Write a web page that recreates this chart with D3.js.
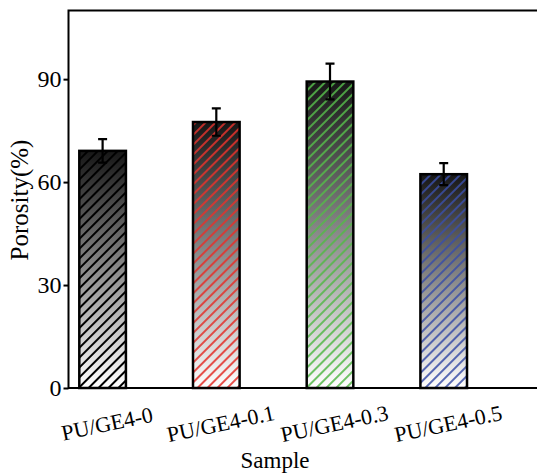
<!DOCTYPE html>
<html>
<head>
<meta charset="utf-8">
<script src="https://cdn.jsdelivr.net/npm/d3@7"></script>
<style>
  body { margin: 0; background: #fff; }
  svg text { font-family: "Liberation Serif", "Times New Roman", serif; fill: #000; }
</style>
</head>
<body>
<div id="chart"></div>
<script>
// Porosity of the PU/GE4 samples

var samples = ["PU/GE4-0", "PU/GE4-0.1", "PU/GE4-0.3", "PU/GE4-0.5"],
    porosity = [69.1, 77.5, 89.3, 62.3],
    porosityErr = [3.4, 4.0, 5.2, 3.2],
    hatchColors = ["#000000", "#e3322c", "#55b84a", "#3a4ea6"],
    yTicks = [0, 30, 60, 90];

var width = 537,
    height = 473,
    plotLeft = 68.5,
    plotTop = 10.5,
    plotBottom = 388,
    plotRight = 560;

var svg = d3.select("#chart").append("svg")
    .attr("width", width)
    .attr("height", height);

var x = d3.scaleLinear()
    .domain([0.7, 0.7 + (plotRight - plotLeft) / 113.7])
    .range([plotLeft, plotRight]);

var y = d3.scaleLinear()
    .domain([0, 110])
    .range([plotBottom, plotTop]);

var barW = x(1.41) - x(1);

// gradient + hatching
var defs = svg.append("defs");

var grad = defs.append("linearGradient")
    .attr("id", "shade")
    .attr("x1", 0).attr("y1", 0)
    .attr("x2", 0).attr("y2", 1);
grad.append("stop").attr("offset", "0%").attr("stop-color", "#161616");
grad.append("stop").attr("offset", "100%").attr("stop-color", "#ffffff");

hatchColors.forEach(function(c, i) {
  defs.append("pattern")
      .attr("id", "hatch" + i)
      .attr("patternUnits", "userSpaceOnUse")
      .attr("width", 7)
      .attr("height", 7)
      .attr("patternTransform", "rotate(45)")
    .append("line")
      .attr("x1", 1).attr("y1", -1)
      .attr("x2", 1).attr("y2", 8)
      .attr("stroke", c)
      .attr("stroke-width", i == 0 ? 2 : 1.7);
});

// bars
var bars = svg.selectAll(".bar")
    .data(samples)
    .enter().append("g")
    .attr("class", "bar");

bars.append("rect")
    .attr("x", function(d, i) { return x(i + 1) - barW / 2; })
    .attr("y", function(d, i) { return y(porosity[i]); })
    .attr("width", barW)
    .attr("height", function(d, i) { return y(0) - y(porosity[i]); })
    .attr("fill", "url(#shade)");

bars.append("rect")
    .attr("x", function(d, i) { return x(i + 1) - barW / 2; })
    .attr("y", function(d, i) { return y(porosity[i]); })
    .attr("width", barW)
    .attr("height", function(d, i) { return y(0) - y(porosity[i]); })
    .attr("fill", function(d, i) { return "url(#hatch" + i + ")"; })
    .attr("stroke", "#000")
    .attr("stroke-width", 2.5);

// error bars
var capW = 4.5;
bars.append("path")
    .attr("fill", "none")
    .attr("stroke", "#000")
    .attr("stroke-width", 2.2)
    .attr("d", function(d, i) {
      var cx = x(i + 1),
          hi = y(porosity[i] + porosityErr[i]),
          lo = y(porosity[i] - porosityErr[i]);
      return "M" + cx + "," + hi + "V" + lo +
             "M" + (cx - capW) + "," + hi + "H" + (cx + capW) +
             "M" + (cx - capW) + "," + lo + "H" + (cx + capW);
    });

// axes
var yAxis = svg.append("g")
    .attr("transform", "translate(" + plotLeft + ",0)")
    .call(d3.axisLeft(y).tickValues(yTicks).tickSize(5).tickPadding(2));
yAxis.select(".domain").remove();
yAxis.selectAll("line").attr("stroke-width", 2);
yAxis.selectAll("text")
    .style("font-family", "Liberation Serif")
    .style("font-size", "24px");

svg.append("path")
    .attr("fill", "none")
    .attr("stroke", "#000")
    .attr("stroke-width", 2)
    .attr("d", "M" + plotRight + "," + plotTop + "H" + plotLeft + "V" + plotBottom + "H" + plotRight);

// x labels
svg.selectAll(".xlabel")
    .data(samples)
    .enter().append("text")
    .attr("class", "xlabel")
    .attr("text-anchor", "middle")
    .attr("transform", function(d, i) {
      return "translate(" + (x(i + 1) + 6) + ",431) rotate(-12)";
    })
    .style("font-size", "22px")
    .text(function(d) { return d; });

// axis titles
svg.append("text")
    .attr("text-anchor", "middle")
    .attr("transform", "translate(28,200) rotate(-90)")
    .style("font-size", "25px")
    .text("Porosity(%)");

svg.append("text")
    .attr("text-anchor", "middle")
    .attr("x", 275)
    .attr("y", 468)
    .style("font-size", "23px")
    .text("Sample");
</script>
</body>
</html>
